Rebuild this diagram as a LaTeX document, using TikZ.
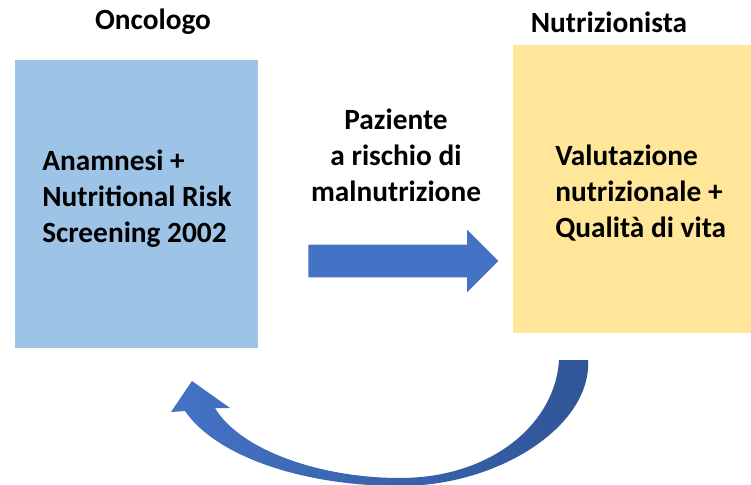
\documentclass[tikz,border=0pt]{standalone}
\usepackage{fontspec}
\setmainfont{Carlito}
\usepackage{tikz}
\usetikzlibrary{positioning}
\usetikzlibrary{shapes.arrows}

\definecolor{oncoblue}{RGB}{157,195,230}
\definecolor{nutriyellow}{RGB}{255,230,153}
\definecolor{arrowblue}{RGB}{68,114,196}
\definecolor{arrowdark}{RGB}{47,85,151}

\begin{document}
\begin{tikzpicture}[x=0.75pt,y=0.75pt,yscale=-1,xscale=1,
  panel/.style={draw=none,inner sep=0pt,minimum height=216pt},
  bigtext/.style={font=\bfseries\fontsize{22}{27}\selectfont,inner sep=0pt}]
\useasboundingbox (0,0) rectangle (751,485);

% Panels
\node [panel,fill=oncoblue,minimum width=182.25pt] (onco) at (136.5,204) {};
\node [panel,fill=nutriyellow,minimum width=178.5pt] (nutri) at (632,189) {};

% Text Node
\node [bigtext] (oncotitle) at (153,22) {Oncologo};
% Text Node
\node [bigtext] (nutrititle) at (609,22) {Nutrizionista};
% Text Node
\node [bigtext,anchor=west,align=left] (oncotext) at (42,199) {Anamnesi +\\Nutritional Risk\\Screening 2002};
% Text Node
\node [bigtext,anchor=west,align=left] (nutritext) at (555,193) {Valutazione\\nutrizionale +\\Qualità di vita};
% Text Node
\node [bigtext,align=center] (risk) at (396,155) {Paziente\\a rischio di\\malnutrizione};

% Connection
\node [single arrow,fill=arrowblue,draw=none,inner xsep=0pt,inner ysep=12pt,minimum width=46.5pt,minimum height=142.5pt,
  single arrow head extend=11.25pt,anchor=tail] (pass) at (308,261) {};

% Curved Arrow
\path [left color=arrowblue,right color=arrowdark]
  (559,360) -- (588,360)
  .. controls (592,425) and (500,486) .. (400,486)
  .. controls (300,486) and (215,455) .. (185,411)
  -- (171,412) -- (192,381) -- (230,408) -- (215,408)
  .. controls (240,450) and (320,478) .. (400,478)
  .. controls (490,478) and (555,425) .. (559,360) -- cycle;

\end{tikzpicture}
\end{document}
